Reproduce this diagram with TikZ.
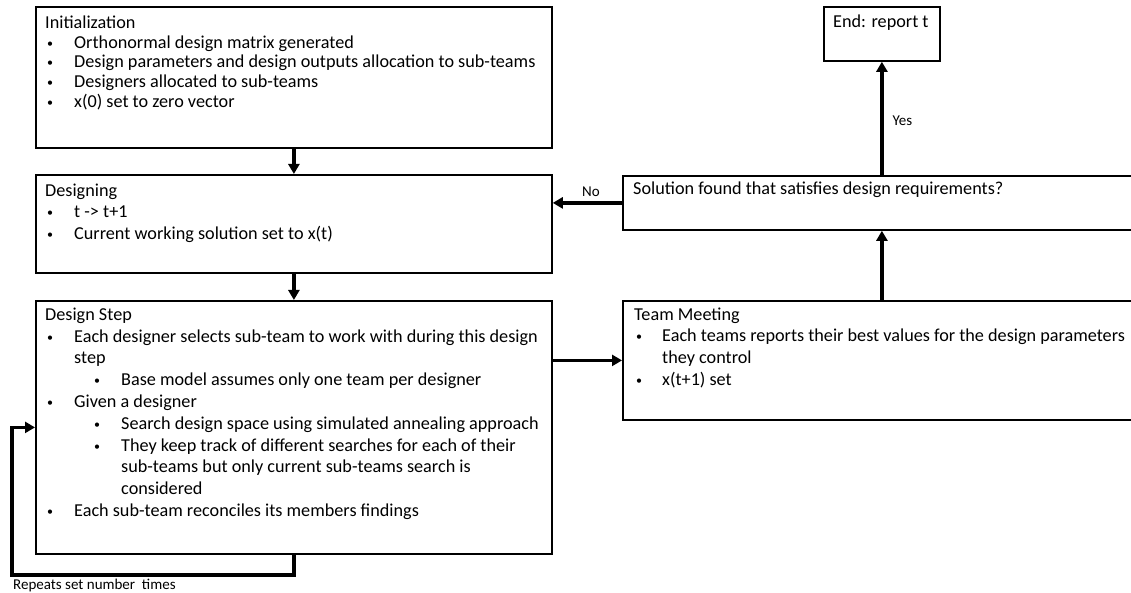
\documentclass[tikz,border=0pt]{standalone}
\usepackage{fontspec}
\setmainfont{Carlito}
\usetikzlibrary{arrows.meta,calc}
\newcommand{\dotb}{{\fontsize{12}{12}\selectfont\raisebox{1pt}{•}}}
\newcommand{\mybul}{\makebox[29pt][l]{\hspace*{2pt}\dotb}}
\newcommand{\mycont}{\hspace*{29pt}}
\newcommand{\mysub}{\hspace*{47pt}\makebox[29pt][l]{\hspace*{2pt}\dotb}}
\newcommand{\mysubcont}{\hspace*{76pt}}
\newcommand{\firstline}{\rule{0pt}{15pt}}
\tikzset{
  box/.style={draw=black, line width=1.8pt, inner sep=0pt, anchor=north west},
  txt/.style={anchor=north west, inner sep=0pt, align=left},
  arr/.style={line width=3.4pt, -{Triangle[width=11pt,length=10pt]}},
  lbl/.style={font=\fontsize{15}{17}\selectfont, inner sep=0pt, anchor=base west},
}
\begin{document}
\begin{tikzpicture}[x=1pt,y=-1pt]
\useasboundingbox (0,0) rectangle (1131,593);
\clip (0,0) rectangle (1131,593);
% boxes
\node[box, minimum width=516pt, minimum height=141pt] (init) at (35,6) {};
\node[box, minimum width=516pt, minimum height=98pt] (designing) at (35,174) {};
\node[box, minimum width=516pt, minimum height=253pt] (step) at (35,300) {};
\node[box, minimum width=518pt, minimum height=119pt] (team) at (622,300) {};
\node[box, minimum width=518pt, minimum height=54pt] (sol) at (622,175) {};
\node[box, minimum width=116pt, minimum height=54pt] (end) at (823,6) {};
% texts
\node[txt, font=\fontsize{18.2}{19.9}\selectfont] (inittxt) at ($(init.north west)+(10,7)$) {%
\firstline Initialization\\
\mybul Orthonormal design matrix generated\\
\mybul Design parameters and design outputs allocation to sub-teams\\
\mybul Designers allocated to sub-teams\\
\mybul x(0) set to zero vector};
\node[txt, font=\fontsize{18.2}{21.8}\selectfont] (designingtxt) at ($(designing.north west)+(10,7)$) {%
\firstline Designing\\
\mybul t -> t+1\\
\mybul Current working solution set to x(t)};
\node[txt, font=\fontsize{18.2}{21.8}\selectfont] (steptxt) at ($(step.north west)+(10,5)$) {%
\firstline Design Step\\
\mybul Each designer selects sub-team to work with during this design\\
\mycont step\\
\mysub Base model assumes only one team per designer\\
\mybul Given a designer\\
\mysub Search design space using simulated annealing approach\\
\mysub They keep track of different searches for each of their\\
\mysubcont sub-teams but only current sub-teams search is\\
\mysubcont considered\\
\mybul Each sub-team reconciles its members findings};
\node[txt, font=\fontsize{18.2}{21.6}\selectfont] (teamtxt) at ($(team.north west)+(12,5)$) {%
\firstline Team Meeting\\
\makebox[28pt][l]{\hspace*{2pt}\dotb}Each teams reports their best values for the design parameters\\
\hspace*{28pt}they control\\
\makebox[28pt][l]{\hspace*{2pt}\dotb}x(t+1) set};
\node[anchor=base west, inner sep=0pt, font=\fontsize{18.2}{20}\selectfont] (soltxt) at ($(sol.north west)+(11,20)$) {Solution found that satisfies design requirements?};
\node[anchor=base west, inner sep=0pt, font=\fontsize{18.2}{20}\selectfont] (endtxt) at ($(end.north west)+(10,22)$) {End: report t};
% connectors
\draw[arr] (init.south) -- (designing.north);
\draw[arr] (designing.south) -- (step.north);
\draw[arr] (step.east |- team.west) -- (team.west);
\draw[arr] (team.north) -- (sol.south);
\draw[arr] (sol.north) -- node[lbl, pos=0.44, xshift=9pt] (yes) {Yes} (end.south);
\draw[arr] (sol.west) -- node[lbl, pos=0.45, yshift=6pt, anchor=base] (no) {No} (sol.west -| designing.east);
\coordinate (loopcorner) at (12,575);
\draw[arr] (step.south) |- (loopcorner) |- (step.west);
\node[lbl] (repeats) at (13,589) {Repeats set number~ times};
\end{tikzpicture}
\end{document}
